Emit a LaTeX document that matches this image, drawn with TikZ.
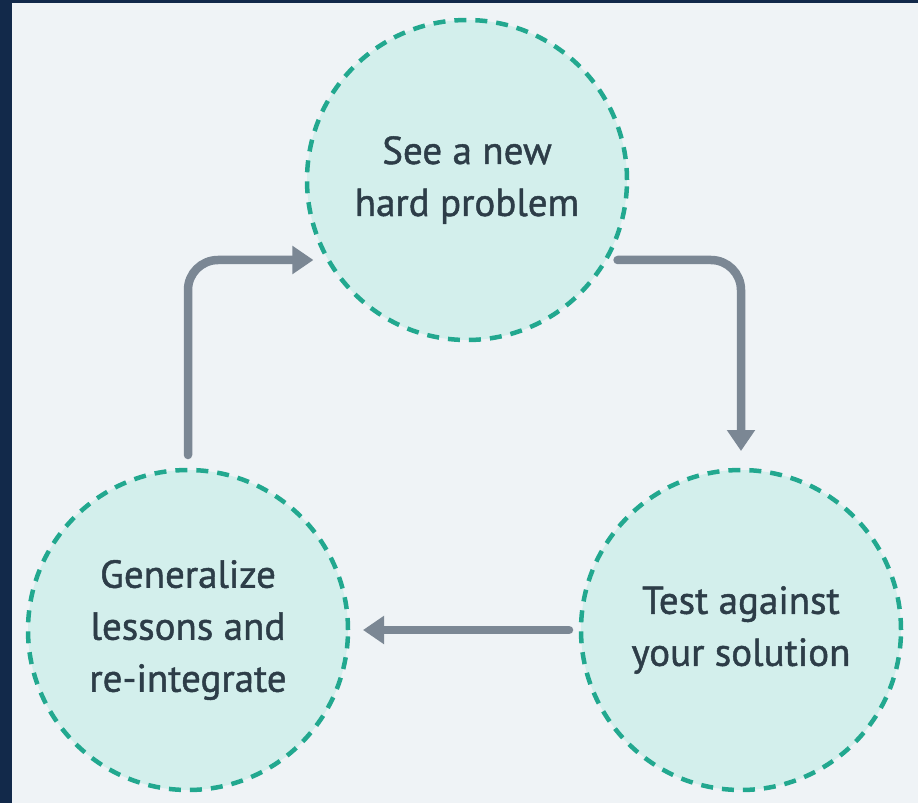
\documentclass[tikz,border=0pt]{standalone}
\usepackage{fontspec}
\setmainfont{PT Sans}[FakeBold=1.2]
\usetikzlibrary{arrows.meta}
\definecolor{navy}{HTML}{12294A}
\definecolor{panel}{HTML}{EFF3F6}
\definecolor{bubble}{HTML}{D3EFEC}
\definecolor{rim}{HTML}{22A88F}
\definecolor{ink}{HTML}{2D3D48}
\definecolor{slate}{HTML}{7B8794}

\begin{document}
\begin{tikzpicture}[x=1pt,y=-1pt,
    stage/.style={circle,minimum size=320pt,inner sep=0pt,outer sep=0pt,fill=bubble,draw=rim,line width=4.5pt,dash pattern=on 12pt off 9pt,text=ink,align=center,font=\fontsize{39}{52}\selectfont},
    flow/.style={draw=slate,line width=8.5pt,line cap=round,rounded corners=30pt,-{Triangle[width=27pt,length=21pt]}}]
                \fill[navy] (0,0) rectangle (918,803);
                \fill[panel] (12,3) rectangle (918,803);
                \useasboundingbox (0,0) rectangle (918,803);
                \node[stage] (problem) at (467,180) {See a new\\hard problem};
                \node[stage] (test) at (741,630) {Test against\\your solution};
                \node[stage] (generalize) at (188,630) {Generalize\\lessons and\\re-integrate};
                \draw[flow,shorten <=15pt,shorten >=15pt] (generalize.north) |- (problem.210);
                \draw[flow,shorten <=12pt,shorten >=19pt] (problem.330) -| (test.north);
                \draw[flow,shorten <=12pt,shorten >=15pt] (test.west) -- (generalize.east);
            \end{tikzpicture}
\end{document}
